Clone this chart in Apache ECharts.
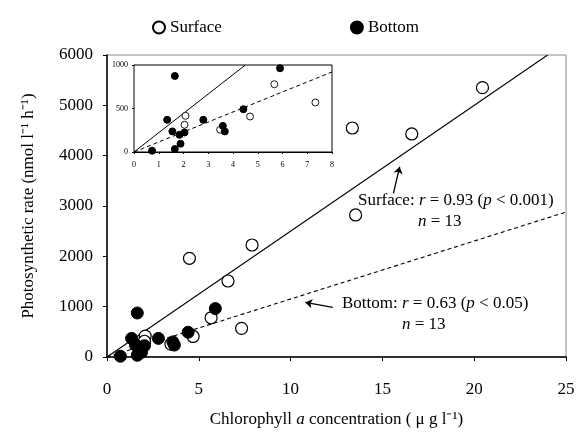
<!DOCTYPE html>
<html>
<head>
<meta charset="utf-8">
<script src="https://cdn.jsdelivr.net/npm/echarts@6/dist/echarts.min.js"></script>
<style>
  html, body { margin: 0; padding: 0; background: #fff; }
  #chart { width: 579px; height: 434px; }
</style>
</head>
<body>
<div id="chart"></div>
<script>
// surface (open circles)
var surfaceX = [2.08, 2.04, 3.48, 4.69, 5.67, 7.33, 4.49, 7.9, 6.59, 13.36, 16.6, 20.45, 13.54];
var surfaceY = [416, 313, 256, 408, 779, 569, 1961, 2225, 1510, 4550, 4431, 5351, 2822];
// bottom (filled circles)
var bottomX = [1.65, 5.9, 1.34, 1.55, 1.84, 2.04, 1.88, 1.65, 0.73, 2.8, 3.59, 3.67, 4.42];
var bottomY = [874, 962, 370, 237, 198, 225, 95, 34, 15, 370, 300, 237, 492];

// regression lines (end points)
var surfaceFit = [[0, 0], [24, 6000]];
var bottomFit = [[0, 0], [25, 2880]];
var insetSurfaceFit = [[0, 0], [4.5, 1000]];
var insetBottomFit = [[0, 0], [8, 920]];

function pairs(xs, ys) {
    var out = [];
    for (var i = 0; i < xs.length; i++) out.push([xs[i], ys[i]]);
    return out;
}

var serif = 'Liberation Serif';
var plain = function (v) { return String(v); };
var surfaceStyle = { color: '#fff', borderColor: '#000', borderWidth: 1.2, opacity: 1 };
var bottomStyle = { color: '#000', borderColor: '#000', borderWidth: 1, opacity: 1 };
var richText = {
    t: { fontFamily: serif, fontSize: 17, fill: '#000' },
    i: { fontFamily: serif, fontSize: 17, fontStyle: 'italic', fill: '#000' }
};

var chart = echarts.init(document.getElementById('chart'));

var option = {
    animation: false,
    backgroundColor: '#fff',
    textStyle: { fontFamily: serif, color: '#000' },
    legend: {
        data: ['Surface', 'Bottom'],
        left: 147,
        top: 14,
        itemWidth: 12,
        itemHeight: 12,
        itemGap: 128,
        textStyle: { fontFamily: serif, fontSize: 17, color: '#000' }
    },
    grid: [
        { left: 107, right: 13, top: 55, bottom: 77, show: true, borderColor: '#888', borderWidth: 1 },
        { left: 134, top: 65, width: 198, height: 87, show: true, borderColor: '#000', borderWidth: 1, backgroundColor: '#fff', z: 5 }
    ],
    xAxis: [
        {
            gridIndex: 0, type: 'value', min: 0, max: 25, interval: 5,
            name: '{t|Chlorophyll }{i|a}{t| concentration ( μ g l⁻¹)}',
            nameLocation: 'middle', nameGap: 54,
            nameTextStyle: {
                rich: {
                    t: { fontFamily: serif, fontSize: 17, color: '#000' },
                    i: { fontFamily: serif, fontSize: 17, fontStyle: 'italic', color: '#000' }
                }
            },
            axisLine: { onZero: false, lineStyle: { color: '#000', width: 1.5 } },
            axisTick: { show: true, length: 4, lineStyle: { color: '#000' } },
            axisLabel: { margin: 24, fontFamily: serif, fontSize: 17, color: '#000', formatter: plain },
            splitLine: { show: false }
        },
        {
            gridIndex: 1, type: 'value', min: 0, max: 8, interval: 1,
            axisLine: { onZero: false, lineStyle: { color: '#000', width: 1 } },
            axisTick: { show: true, length: 2, lineStyle: { color: '#000' } },
            axisLabel: { margin: 9, fontFamily: serif, fontSize: 8, color: '#000', formatter: plain },
            splitLine: { show: false }
        }
    ],
    yAxis: [
        {
            gridIndex: 0, type: 'value', min: 0, max: 6000, interval: 1000,
            name: 'Photosynthetic rate (nmol l⁻¹ h⁻¹)',
            nameLocation: 'middle', nameGap: 70,
            nameTextStyle: { fontFamily: serif, fontSize: 17, color: '#000' },
            axisLine: { onZero: false, lineStyle: { color: '#000', width: 1.5 } },
            axisTick: { show: true, length: 4, lineStyle: { color: '#000' } },
            axisLabel: { margin: 14, fontFamily: serif, fontSize: 17, color: '#000', formatter: plain },
            splitLine: { show: false }
        },
        {
            gridIndex: 1, type: 'value', min: 0, max: 1000, interval: 500,
            axisLine: { onZero: false, lineStyle: { color: '#000', width: 1 } },
            axisTick: { show: true, length: 2, lineStyle: { color: '#000' } },
            axisLabel: { margin: 6, fontFamily: serif, fontSize: 8, color: '#000', formatter: plain },
            splitLine: { show: false }
        }
    ],
    series: [
        {
            name: 'surfaceFit', type: 'line', xAxisIndex: 0, yAxisIndex: 0,
            data: surfaceFit, symbol: 'none', silent: true, z: 1,
            lineStyle: { color: '#000', width: 1.1 },
            markLine: {
                silent: true, symbol: ['none', 'arrow'], symbolSize: 7,
                lineStyle: { color: '#000', width: 1.3, type: 'solid' },
                label: { show: false },
                data: [[{ coord: [15.6, 3250] }, { coord: [15.94, 3780] }]]
            }
        },
        {
            name: 'bottomFit', type: 'line', xAxisIndex: 0, yAxisIndex: 0,
            data: bottomFit, symbol: 'none', silent: true, z: 1,
            lineStyle: { color: '#000', width: 1.1, type: [4, 3] },
            markLine: {
                silent: true, symbol: ['none', 'arrow'], symbolSize: 7,
                lineStyle: { color: '#000', width: 1.3, type: 'solid' },
                label: { show: false },
                data: [[{ coord: [12.3, 985] }, { coord: [10.8, 1085] }]]
            }
        },
        {
            name: 'Surface', type: 'scatter', xAxisIndex: 0, yAxisIndex: 0,
            data: pairs(surfaceX, surfaceY), symbol: 'circle', symbolSize: 12,
            itemStyle: surfaceStyle, z: 3
        },
        {
            name: 'Bottom', type: 'scatter', xAxisIndex: 0, yAxisIndex: 0,
            data: pairs(bottomX, bottomY), symbol: 'circle', symbolSize: 12,
            itemStyle: bottomStyle, z: 4
        },
        {
            name: 'insetSurfaceFit', type: 'line', xAxisIndex: 1, yAxisIndex: 1,
            data: insetSurfaceFit, symbol: 'none', silent: true, z: 6,
            lineStyle: { color: '#000', width: 1 }
        },
        {
            name: 'insetBottomFit', type: 'line', xAxisIndex: 1, yAxisIndex: 1,
            data: insetBottomFit, symbol: 'none', silent: true, z: 6,
            lineStyle: { color: '#000', width: 1, type: [4, 3] }
        },
        {
            name: 'Surface', type: 'scatter', xAxisIndex: 1, yAxisIndex: 1,
            data: pairs(surfaceX, surfaceY), symbol: 'circle', symbolSize: 7, clip: true,
            itemStyle: { color: '#fff', borderColor: '#000', borderWidth: 0.9, opacity: 1 }, z: 7
        },
        {
            name: 'Bottom', type: 'scatter', xAxisIndex: 1, yAxisIndex: 1,
            data: pairs(bottomX, bottomY), symbol: 'circle', symbolSize: 7, clip: true,
            itemStyle: bottomStyle, z: 8
        }
    ],
    graphic: [
        {
            type: 'text', left: 358, top: 192, z: 10,
            style: { text: '{t|Surface: }{i|r}{t| = 0.93 (}{i|p}{t| < 0.001)}', rich: richText }
        },
        {
            type: 'text', left: 418, top: 213, z: 10,
            style: { text: '{i|n}{t| = 13}', rich: richText }
        },
        {
            type: 'text', left: 342, top: 295, z: 10,
            style: { text: '{t|Bottom: }{i|r}{t| = 0.63 (}{i|p}{t| < 0.05)}', rich: richText }
        },
        {
            type: 'text', left: 402, top: 316, z: 10,
            style: { text: '{i|n}{t| = 13}', rich: richText }
        }
    ]
};

chart.setOption(option);
</script>
</body>
</html>
